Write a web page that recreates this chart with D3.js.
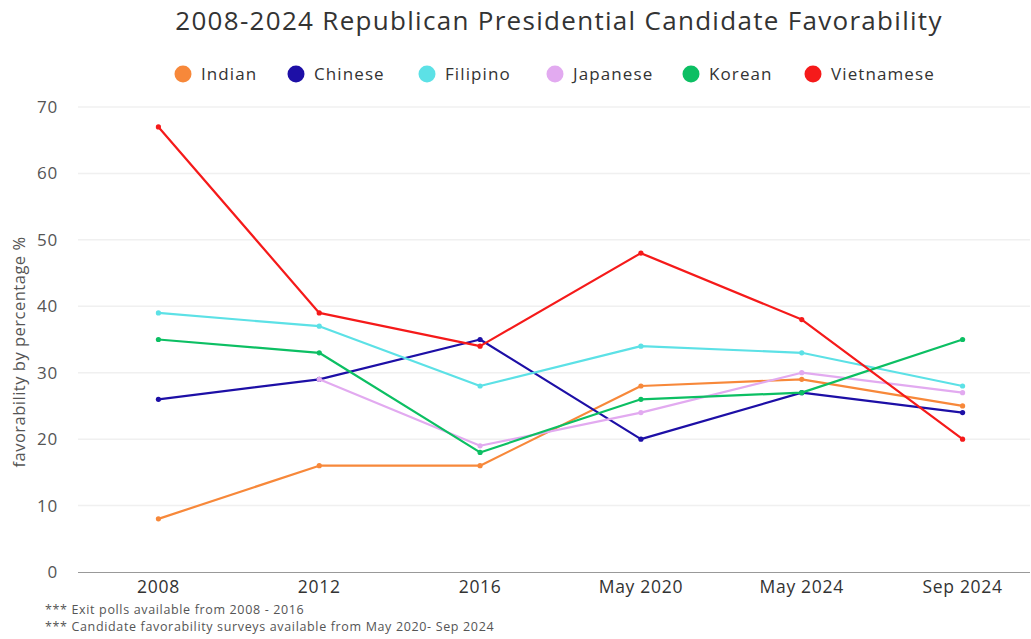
<!DOCTYPE html>
<html>
<head>
<meta charset="utf-8">
<script src="https://cdn.jsdelivr.net/npm/d3@7"></script>
<style>
  html, body { margin: 0; padding: 0; background: #fff; }
  svg { display: block; font-family: "Open Sans", "Noto Sans", sans-serif; }
</style>
</head>
<body>
<svg id="chart" width="1031" height="639"></svg>
<script>
// Poll periods on the x axis
const periods = ["2008", "2012", "2016", "May 2020", "May 2024", "Sep 2024"];

// Republican candidate favorability (%) by group; null = no data
const indian     = [8, 16, 16, 28, 29, 25];
const chinese    = [26, 29, 35, 20, 27, 24];
const filipino   = [39, 37, 28, 34, 33, 28];
const japanese   = [null, 29, 19, 24, 30, 27];
const korean     = [35, 33, 18, 26, 27, 35];
const vietnamese = [67, 39, 34, 48, 38, 20];

const groupNames = ["Indian", "Chinese", "Filipino", "Japanese", "Korean", "Vietnamese"];
const groupValues = [indian, chinese, filipino, japanese, korean, vietnamese];
const groupColors = ["#f7883a", "#1d0fa6", "#5ce1e6", "#e2aaf0", "#0cbf63", "#f51a1a"];

const yTicks = [0, 10, 20, 30, 40, 50, 60, 70];

const svg = d3.select("#chart");

const x = d3.scaleBand().domain(periods).range([78, 1043]);
const y = d3.scaleLinear().domain([0, 70]).range([572, 107]);
const xc = d => x(d) + x.bandwidth() / 2;

// Title
svg.append("text")
  .attr("x", 559).attr("y", 30)
  .attr("text-anchor", "middle")
  .attr("font-size", 26)
  .attr("letter-spacing", 1.3)
  .attr("fill", "#333")
  .text("2008-2024 Republican Presidential Candidate Favorability");

// Legend
const legendX = [183, 296, 427, 555, 691, 813];
const legend = svg.append("g");
groupNames.forEach((name, i) => {
  legend.append("circle")
    .attr("cx", legendX[i]).attr("cy", 74).attr("r", 8.5)
    .attr("fill", groupColors[i]);
  legend.append("text")
    .attr("x", legendX[i] + 18).attr("y", 80)
    .attr("font-size", 17).attr("letter-spacing", 1.1)
    .attr("fill", "#333")
    .text(name);
});

// Gridlines
svg.append("g")
  .selectAll("line")
  .data(yTicks.filter(t => t > 0))
  .join("line")
  .attr("x1", 78).attr("x2", 1030)
  .attr("y1", d => y(d)).attr("y2", d => y(d))
  .attr("stroke", "#f0f0f0").attr("stroke-width", 1.5);

// Y axis
const yAxis = svg.append("g")
  .attr("transform", "translate(58,0)")
  .call(d3.axisLeft(y).tickValues(yTicks).tickSize(0).tickPadding(0));
yAxis.select(".domain").remove();
yAxis.selectAll("text")
  .attr("font-size", 17).attr("letter-spacing", 0.8).attr("fill", "#555")
  .attr("font-family", "'Open Sans', sans-serif");

// X axis
const xAxis = svg.append("g")
  .attr("transform", "translate(0,572)")
  .call(d3.axisBottom(x).tickSize(0).tickPadding(9));
xAxis.select(".domain")
  .attr("d", "M78,0.5H1030")
  .attr("stroke", "#999").attr("stroke-width", 1);
xAxis.selectAll("text")
  .attr("font-size", 17.5).attr("letter-spacing", 0.7).attr("fill", "#333")
  .attr("font-family", "'Open Sans', sans-serif");

// Y axis title
svg.append("text")
  .attr("transform", "translate(25,352) rotate(-90)")
  .attr("text-anchor", "middle")
  .attr("font-size", 16.5).attr("letter-spacing", 0.5).attr("fill", "#555")
  .text("favorability by percentage %");

// Lines and point markers
const line = d3.line()
  .defined(d => d.v != null)
  .x(d => xc(d.p))
  .y(d => y(d.v));

groupNames.forEach((name, i) => {
  const pts = periods.map((p, j) => ({ p, v: groupValues[i][j] }));
  svg.append("path")
    .datum(pts)
    .attr("d", line)
    .attr("fill", "none")
    .attr("stroke", groupColors[i])
    .attr("stroke-width", 2.2)
    .attr("stroke-linejoin", "round");
  svg.append("g")
    .selectAll("circle")
    .data(pts.filter(d => d.v != null))
    .join("circle")
    .attr("cx", d => xc(d.p)).attr("cy", d => y(d.v)).attr("r", 2.6)
    .attr("fill", groupColors[i]);
});

// Footnotes
const notes = [
  "*** Exit polls available from 2008 - 2016",
  "*** Candidate favorability surveys available from May 2020- Sep 2024"
];
svg.append("g").selectAll("text")
  .data(notes)
  .join("text")
  .attr("x", 45).attr("y", (d, i) => 614 + i * 17)
  .attr("font-size", 12.5).attr("letter-spacing", 0.65).attr("fill", "#555")
  .text(d => d);
</script>
</body>
</html>
